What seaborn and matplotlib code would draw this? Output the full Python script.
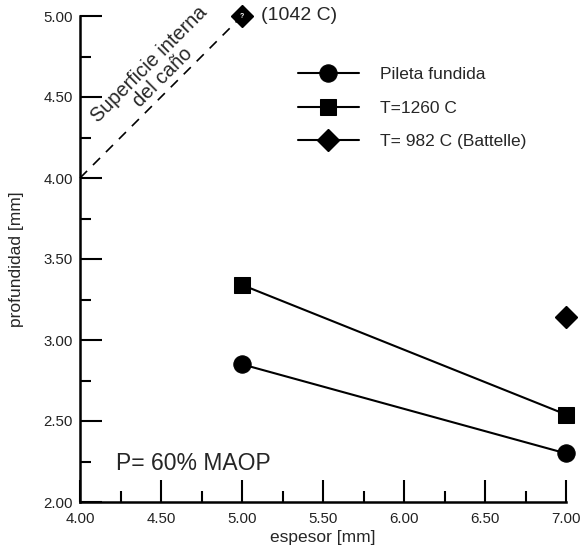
import matplotlib
matplotlib.use("Agg")
import matplotlib.pyplot as plt
import seaborn as sns
import pandas as pd
from matplotlib.ticker import MultipleLocator

sns.set_theme(style="ticks")
plt.rcParams['font.family'] = ['Liberation Sans', 'DejaVu Sans']

espesor = [5.0, 7.0]
pileta = [2.85, 2.30]
t1260 = [3.34, 2.54]
battelle_x = [7.0]
battelle_y = [3.14]
extra_x = [5.0]
extra_y = [5.0]
extra_label = "(1042 C)"
surface_x = [4.0, 5.0]
surface_y = [4.0, 5.0]
series_names = ["Pileta fundida", "T=1260 C", "T= 982 C (Battelle)"]
xticks = [4.0, 4.5, 5.0, 5.5, 6.0, 6.5, 7.0]
yticks = [2.0, 2.5, 3.0, 3.5, 4.0, 4.5, 5.0]

df = pd.DataFrame({
    "espesor": espesor * 2,
    "profundidad": pileta + t1260,
    "serie": [series_names[0]] * 2 + [series_names[1]] * 2,
})

fig = plt.figure(figsize=(5.8, 5.48), dpi=100)
ax = fig.add_axes([80/580, 46/548, 486/580, 486/548])

sns.lineplot(data=df[df.serie == series_names[0]], x="espesor", y="profundidad",
             color="black", marker="o", markersize=12.5, lw=1.5, ax=ax,
             label=series_names[0], markeredgecolor="black", clip_on=False)
sns.lineplot(data=df[df.serie == series_names[1]], x="espesor", y="profundidad",
             color="black", marker="s", markersize=12, lw=1.5, ax=ax,
             label=series_names[1], markeredgecolor="black", clip_on=False)
ax.plot(battelle_x, battelle_y, color="black", marker="D", markersize=11,
        linestyle="none", clip_on=False)
ax.plot([], [], color="black", marker="D", markersize=11, lw=1.5,
        label=series_names[2])

# dashed inner surface line
ax.plot(surface_x, surface_y, color="black", lw=1.2, ls=(0, (6, 5)), clip_on=False)
ax.plot(extra_x, extra_y, color="black", marker="D", markersize=11,
        linestyle="none", clip_on=False, zorder=5)
ax.text(extra_x[0], extra_y[0] - 0.005, "?", color="white", fontsize=5,
        ha="center", va="center", zorder=6, fontweight="bold")
ax.text(5.12, 5.0, extra_label, fontsize=14, ha="left", va="center")

ax.text(4.47, 4.66, "Superficie interna\ndel caño", rotation=45, fontsize=14.3,
        ha="center", va="center", rotation_mode="anchor", linespacing=0.95)

ax.text(4.22, 2.235, "P= 60% MAOP", fontsize=16.5, ha="left", va="center")

ax.set_xlim(4.0, 7.0)
ax.set_ylim(2.0, 5.0)
ax.set_xticks(xticks)
ax.set_yticks(yticks)
ax.set_xticklabels([f"{v:.2f}" for v in xticks])
ax.set_yticklabels([f"{v:.2f}" for v in yticks])
ax.xaxis.set_minor_locator(MultipleLocator(0.25))
ax.yaxis.set_minor_locator(MultipleLocator(0.25))
ax.tick_params(which="major", direction="in", length=16, width=1.5,
               labelsize=10.8, color="black", labelcolor="#222222", pad=5)
ax.tick_params(axis="x", which="major", pad=7)
ax.tick_params(which="minor", direction="in", length=8, width=1.5, color="black")
ax.set_xlabel("espesor [mm]", fontsize=12.5, labelpad=3)
ax.set_ylabel("profundidad [mm]", fontsize=12.5, labelpad=14)

for s in ["top", "right"]:
    ax.spines[s].set_visible(False)
for s in ["left", "bottom"]:
    ax.spines[s].set_linewidth(1.8)
    ax.spines[s].set_color("black")

leg = ax.legend(loc="upper left", bbox_to_anchor=(0.434, 0.909), frameon=False,
                fontsize=12.5, handlelength=3.5, handletextpad=1.25,
                labelspacing=1.05, borderaxespad=0)

fig.savefig("out.png", dpi=100)
